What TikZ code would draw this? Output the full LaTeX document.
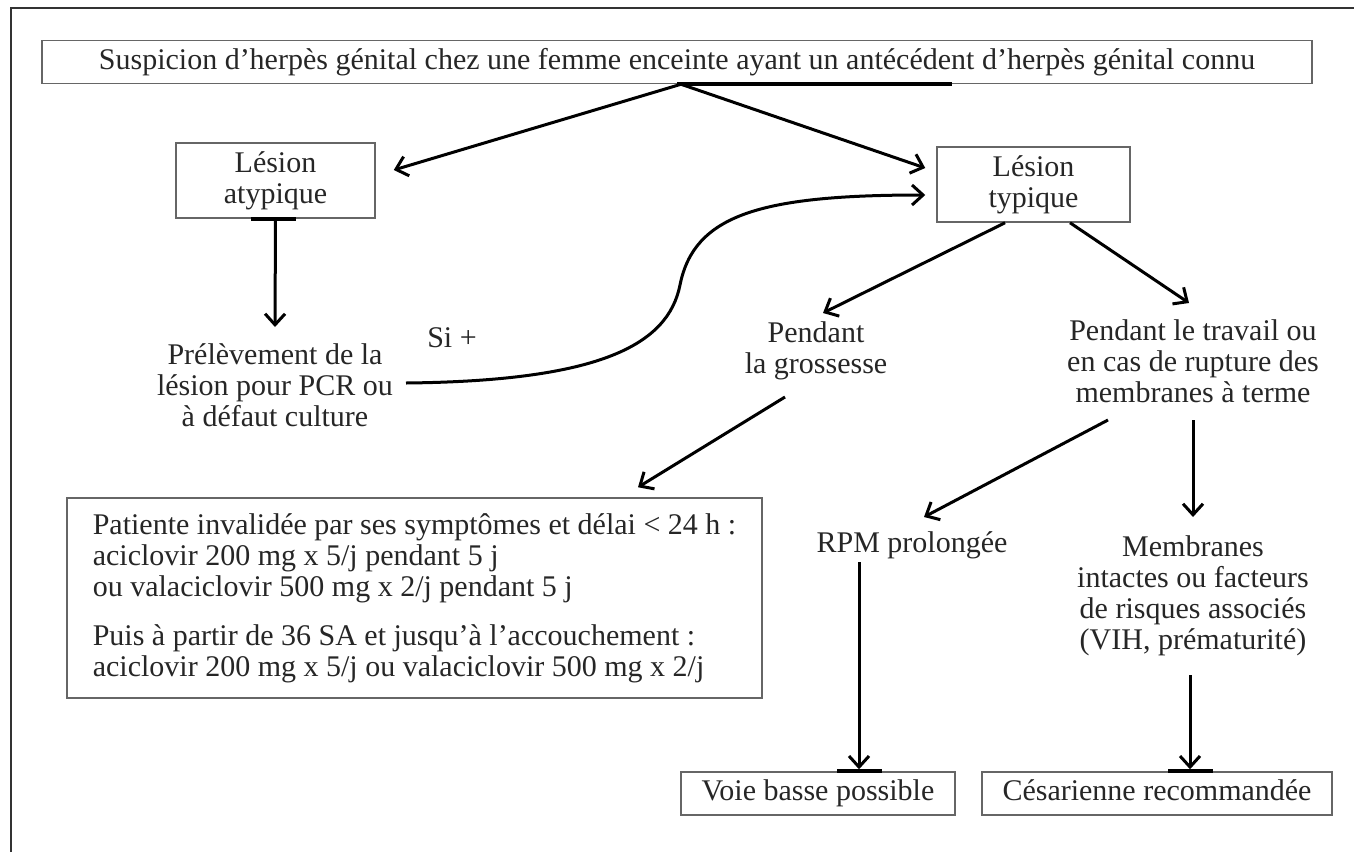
\documentclass[tikz,border=0pt]{standalone}
\usepackage{fontspec}
\setmainfont{Liberation Serif}
\usetikzlibrary{arrows.meta,calc}
\begin{document}
\begin{tikzpicture}[x=1pt,y=-1pt,
    every node/.style={font=\fontsize{30}{31}\selectfont, text=black!85, inner sep=0pt},
    box/.style={draw=black!60, line width=1.5pt, minimum height=43pt},
    onebox/.style={box, text height=21pt, text depth=7pt},
    lbl/.style={align=center},
    bar/.style={line width=4pt, line cap=butt},
    flow/.style={line width=3pt, -{Straight Barb[length=11pt,width=20pt,line width=3pt]}}]
  \useasboundingbox (0,0) rectangle (1354,852);
  \draw[line width=2.5pt, black!80] (11,852) -- (11,8) -- (1354,8);
  \draw
    (677,62) node[onebox, minimum width=1270pt] (top)
      {Suspicion d’herpès génital chez une femme enceinte ayant un antécédent d’herpès génital connu}
    (275.5,180.5) node[box, minimum width=199pt, minimum height=75pt, lbl] (atyp) {Lésion\\atypique}
    (1033.5,184.5) node[box, minimum width=193pt, minimum height=75pt, lbl] (typ) {Lésion\\typique}
    (275,385) node[lbl] (prel) {Prélèvement de la\\lésion pour PCR ou\\à défaut culture}
    (452,338) node (si) {Si +}
    (816,351) node[lbl] (gross) {Pendant\\la grossesse}
    (1193,361) node[lbl] (trav) {Pendant le travail ou\\en cas de rupture des\\membranes à terme}
    (414.5,598) node[box, minimum width=695pt, minimum height=200pt, align=left] (trt)
      {Patiente invalidée par ses symptômes et délai < 24 h :\\
       aciclovir 200 mg x 5/j pendant 5 j\\
       ou valaciclovir 500 mg x 2/j pendant 5 j\\[18pt]
       Puis à partir de 36 SA et jusqu’à l’accouchement :\\
       aciclovir 200 mg x 5/j ou valaciclovir 500 mg x 2/j}
    (912,545) node (rpm) {RPM prolongée}
    (1193,596) node[lbl] (memb) {Membranes\\intactes ou facteurs\\de risques associés\\(VIH, prématurité)}
    (818,793.5) node[onebox, minimum width=274pt] (voie) {Voie basse possible}
    (1157,793.5) node[onebox, minimum width=350pt] (ces) {Césarienne recommandée};
  % heavy marks on the box edges
  \draw[bar] (top.south) -- ($(top.south)+(275,0)$);
  \draw[bar] ($(atyp.south)+(-25,0)$) -- ($(atyp.south)+(20,0)$);
  \draw[bar] ($(voie.north)+(19,0)$) -- ($(voie.north)+(64,0)$);
  \draw[bar] ($(ces.north)+(11,0)$) -- ($(ces.north)+(56,0)$);
  \begin{scope}[flow]
    \draw ($(top.south)+(4,0)$) -- ($(atyp.east)+(18,-10.5)$);
    \draw ($(top.south)+(4,0)$) -- ($(typ.west)+(-11,-16.5)$);
    \draw (atyp.south) -- ($(prel)+(0,-58)$);
    \draw ($(prel)+(131,-2)$) .. controls (600,381) and (668,345) .. (680,285)
      .. controls (694,215) and (760,195) .. ($(typ.west)+(-11,10.5)$);
    \draw ($(typ.south)+(-28.5,0)$) -- ($(gross)+(7,-38)$);
    \draw ($(typ.south)+(36.5,0)$) -- ($(trav)+(-4,-58)$);
    \draw ($(gross)+(-31,46)$) -- ($(trt.north)+(223.5,-10)$);
    \draw ($(trav)+(-85,59)$) -- ($(rpm)+(12,-28)$);
    \draw ($(trav)+(0,59)$) -- ($(memb)+(0,-79)$);
    \draw ($(rpm)+(-53,17)$) -- ($(voie.north)+(41,-2)$);
    \draw ($(memb)+(-3,79)$) -- ($(ces.north)+(33,-2)$);
  \end{scope}
\end{tikzpicture}
\end{document}
